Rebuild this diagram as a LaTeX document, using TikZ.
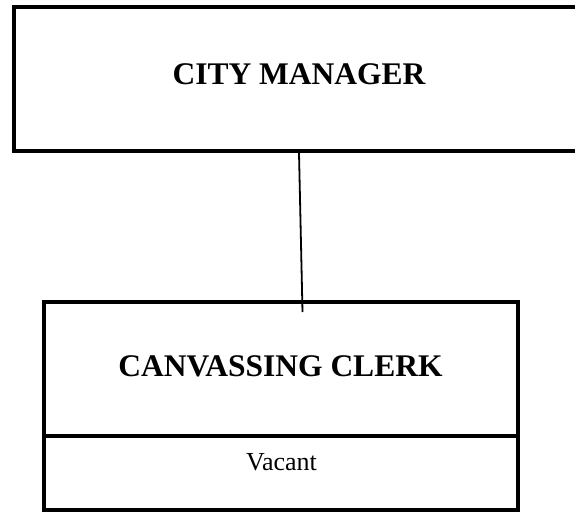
\documentclass[tikz,border=0pt]{standalone}
\usepackage{fontspec}
\setmainfont{Liberation Serif}
\begin{document}
\begin{tikzpicture}[x=1pt,y=-1pt,
  box/.style={draw, line width=4pt, rectangle, inner sep=0pt},
  title/.style={font=\fontsize{31.5}{36}\selectfont\bfseries, inner sep=0pt},
  sub/.style={font=\fontsize{26}{30}\selectfont, inner sep=0pt},
  link/.style={line width=1.8pt}]
\useasboundingbox (0,0) rectangle (575,512);
\clip (0,0) rectangle (575,512);
% top box (runs off the right edge)
\node[box, minimum width=576pt, minimum height=144.5pt] (cm) at (302,78.75) {};
\node[title] (cmt) at (299,74) {CITY MANAGER};
% lower box
\node[box, minimum width=474pt, minimum height=208pt] (cc) at (281,406) {};
\coordinate (dl) at (44,435.5);
\coordinate (dr) at (518,435.5);
\draw[line width=4pt] (dl) -- (dr);
\node[title] (cct) at (280.5,366.5) {CANVASSING CLERK};
\node[sub] (vac) at (281.5,462) {Vacant};
% connector
\coordinate (cend) at (302.5,312);
\draw[link] ([xshift=-3pt]cm.south) -- (cend);
\end{tikzpicture}
\end{document}
